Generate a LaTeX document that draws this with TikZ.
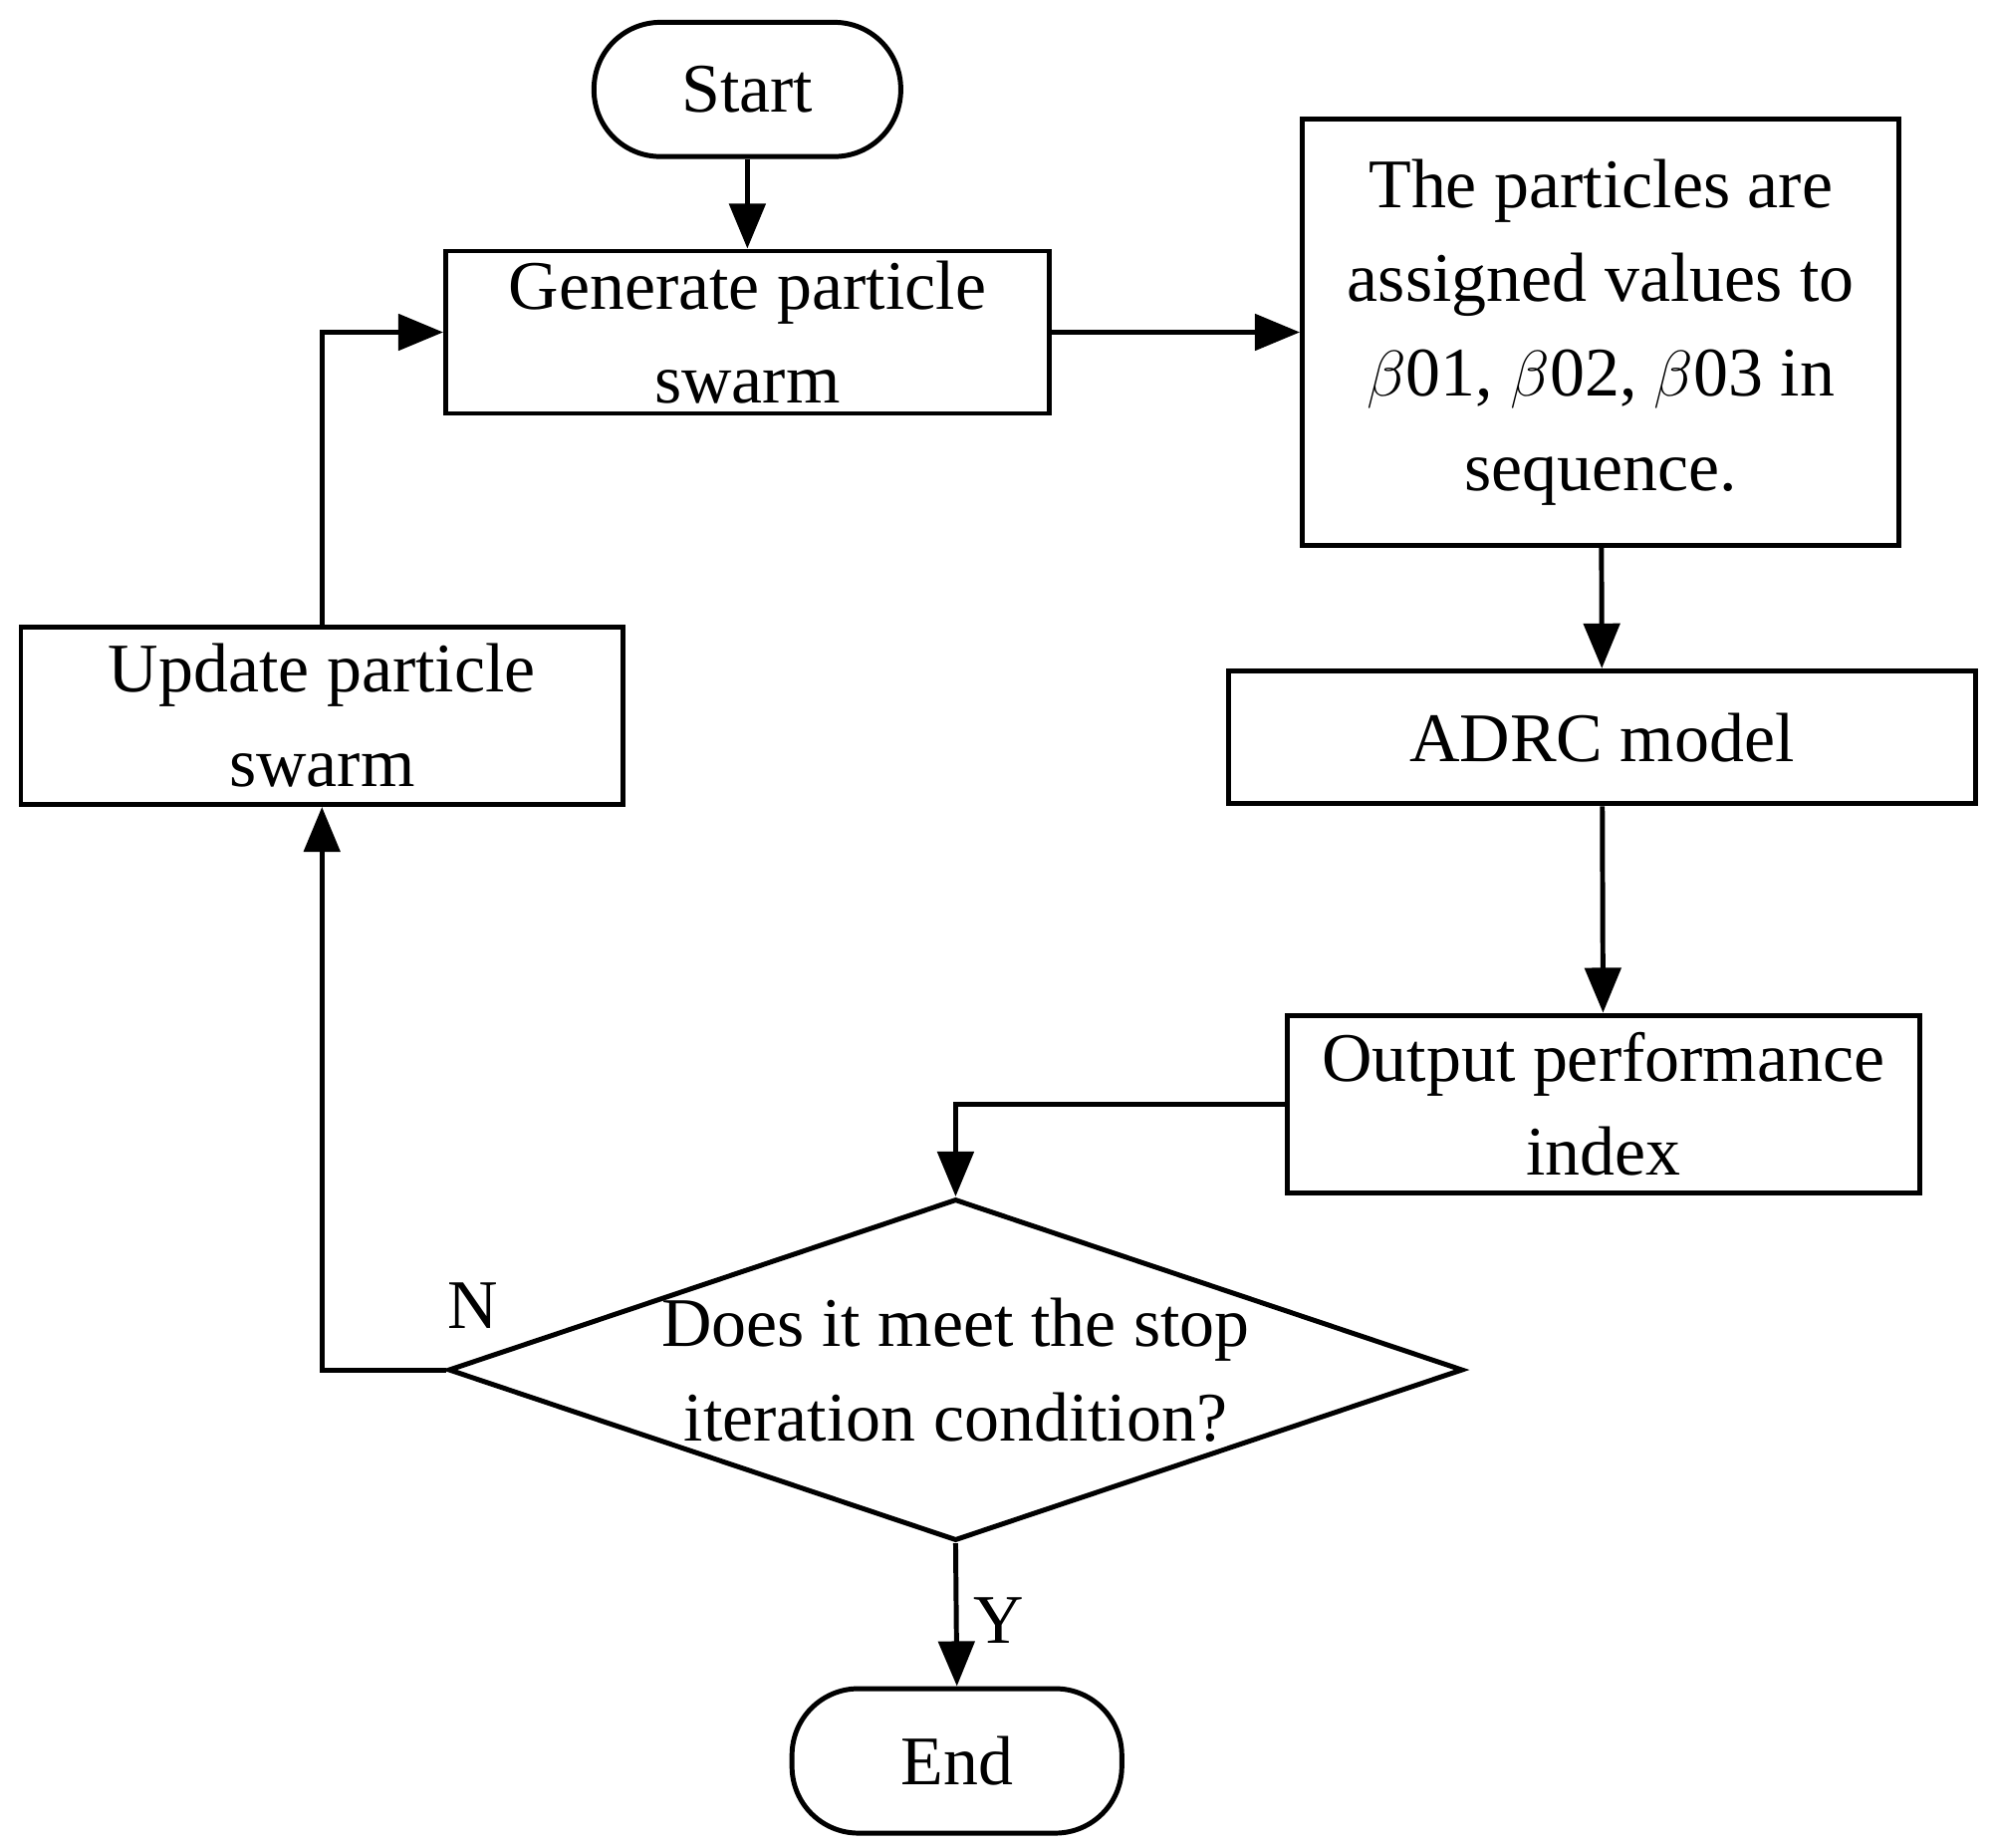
\documentclass[tikz,border=0pt]{standalone}
\usepackage{fontspec}
\setmainfont{Liberation Serif}
\usetikzlibrary{shapes.geometric,arrows.meta}
\tikzset{
  procbox/.style={draw, line width=1.1pt, inner sep=0pt, align=center, font=\fontsize{15.5pt}{21pt}\selectfont},
  termbox/.style={procbox, rounded corners=0.52cm},
  decbox/.style={procbox, diamond, aspect=2.97, minimum width=7.3cm, minimum height=2.46cm},
  flow/.style={line width=1.1pt, -{Triangle[length=10pt,width=8pt]}},
  lbl/.style={font=\fontsize{15.5pt}{18pt}\selectfont}
}
\newcommand{\ibox}[6]{\node[procbox, minimum width=#3cm, minimum height=#4cm] (#5) at (#1,#2) {#6};}
\begin{document}
\begin{tikzpicture}[x=0.01cm,y=-0.01cm]
  \useasboundingbox (0,0) rectangle (1560,1446);
  % terminals
  \node[termbox, minimum width=2.4cm, minimum height=1.05cm] (start) at (585,70) {Start};
  \node[termbox, minimum width=2.58cm, minimum height=1.13cm] (end) at (749,1378) {End};
  % process boxes
  \ibox{585}{260}{4.72}{1.27}{gen}{Generate particle\\swarm}
  \ibox{1253}{260}{4.67}{3.33}{assign}{The particles are\\assigned values to\\$\mathit{\beta}$01, $\mathit{\beta}$02, $\mathit{\beta}$03 in\\sequence.}
  \ibox{1254}{577}{5.84}{1.04}{adrc}{ADRC model}
  \ibox{1255}{864}{4.95}{1.39}{outp}{Output performance\\index}
  \ibox{252}{560}{4.71}{1.39}{upd}{Update particle\\swarm}
  % decision
  \node[decbox] (stop) at (748,1072) {Does it meet the stop\\iteration condition?};
  % connectors
  \draw[flow] (start) -- (gen);
  \draw[flow] (gen.east) -- (assign.west |- gen.east);
  \draw[flow] (assign) -- (adrc);
  \draw[flow] (adrc) -- (outp);
  \draw[flow] (outp.west) -| (stop.north);
  \draw[flow] (stop.west) -| (upd.south);
  \draw[flow] (upd.north) |- (gen.west);
  \draw[flow] (stop.south) -- (end.north);
  \node[lbl] (nlab) at (370,1022) {N};
  \node[lbl] (ylab) at (782,1268) {Y};
\end{tikzpicture}
\end{document}
